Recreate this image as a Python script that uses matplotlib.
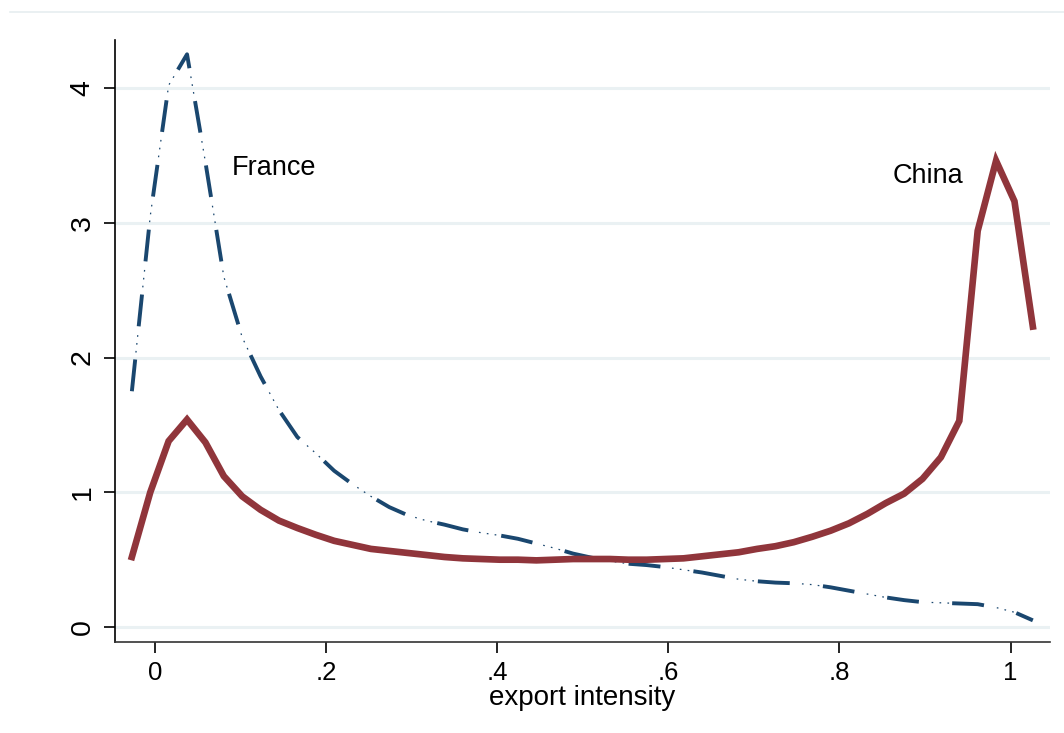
import numpy as np
import matplotlib
matplotlib.use("Agg")
import matplotlib.pyplot as plt

plt.rcParams['font.family'] = ['Liberation Sans', 'DejaVu Sans']
plt.rcParams['lines.scale_dashes'] = False

# kdensity evaluation grid (50 points)
x = np.linspace(-0.027, 1.026, 50)

china = [0.52, 1.00, 1.38, 1.54, 1.37, 1.12, 0.97, 0.87, 0.79, 0.735,
         0.685, 0.64, 0.61, 0.58, 0.565, 0.55, 0.535, 0.52, 0.51, 0.505,
         0.50, 0.50, 0.495, 0.50, 0.505, 0.505, 0.505, 0.50, 0.50, 0.505,
         0.51, 0.525, 0.54, 0.555, 0.58, 0.60, 0.63, 0.67, 0.715, 0.77,
         0.84, 0.92, 0.99, 1.10, 1.26, 1.53, 2.94, 3.46, 3.16, 2.23]

france = [1.75, 3.05, 4.02, 4.25, 3.45, 2.60, 2.15, 1.86, 1.61, 1.41,
          1.29, 1.16, 1.06, 0.97, 0.89, 0.83, 0.79, 0.76, 0.725, 0.70,
          0.68, 0.655, 0.62, 0.585, 0.545, 0.515, 0.49, 0.47, 0.46, 0.445,
          0.425, 0.405, 0.38, 0.355, 0.34, 0.33, 0.325, 0.315, 0.295, 0.27,
          0.245, 0.22, 0.20, 0.185, 0.18, 0.175, 0.17, 0.145, 0.11, 0.05]

xticks = [0, 0.2, 0.4, 0.6, 0.8, 1.0]
xticklabels = ['0', '.2', '.4', '.6', '.8', '1']
yticks = [0, 1, 2, 3, 4]

navy = '#1a476f'
maroon = '#90353b'

fig = plt.figure(figsize=(10.64, 7.33), dpi=100)
ax = fig.add_axes([0.1081, 0.1241, 0.8787, 0.8213])

# faint graph-region outline at top
fig.add_artist(plt.Line2D([0.009, 1.0], [0.984, 0.984], color='#e6eef0', lw=1.2))

for yv in yticks:
    ax.axhline(yv, color='#eaf1f3', lw=2.2, zorder=0)

# France: long dashes plus thin small dots in the gaps
ax.plot(x, france, color=navy, lw=2.8, linestyle=(0, (23, 24)),
        solid_capstyle='butt', dash_capstyle='butt', zorder=2)
ax.plot(x, france, color=navy, lw=0.9, linestyle=(-28, (1.2, 4.5, 1.2, 4.5, 1.2, 34.6)),
        dash_capstyle='butt', zorder=2)

ax.plot(x, china, color=maroon, lw=4.8, solid_joinstyle='miter', zorder=3)

ax.text(0.139, 3.41, 'France', fontsize=19.5, ha='center', va='center')
ax.text(0.903, 3.35, 'China', fontsize=19.5, ha='center', va='center')

ax.set_xlim(-0.0467, 1.046)
ax.set_ylim(-0.111, 4.356)
ax.set_xticks(xticks)
ax.set_xticklabels(xticklabels, fontsize=18.5)
ax.set_yticks(yticks)
ax.set_yticklabels([str(v) for v in yticks], fontsize=20.5, rotation=90, va='center')
ax.tick_params(axis='both', length=8, width=1.2, direction='out', pad=6)
ax.set_xlabel('export intensity', fontsize=20, labelpad=0)

for s in ['top', 'right']:
    ax.spines[s].set_visible(False)
ax.spines['left'].set_linewidth(1.2)
ax.spines['bottom'].set_linewidth(1.2)
ax.spines['bottom'].set_color('#333333')

fig.savefig('out.png', dpi=100)
